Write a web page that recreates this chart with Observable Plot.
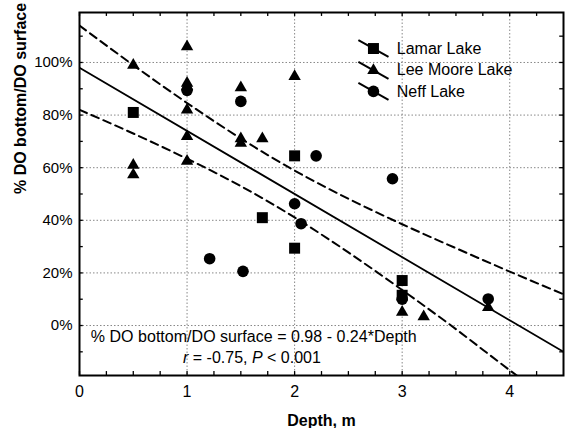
<!DOCTYPE html>
<html><head><meta charset="utf-8">
<script src="https://cdn.jsdelivr.net/npm/d3@7"></script>
<script src="https://cdn.jsdelivr.net/npm/@observablehq/plot@0.6"></script>
<style>body{margin:0;background:#fff} #chart svg{display:block}</style>
</head><body><div id="chart"></div>
<script>
// ---- data ----
const lamarDepth = [0.5, 1.7, 2.0, 2.0, 3.0, 3.0];
const lamarRatio = [0.81, 0.41, 0.645, 0.294, 0.171, 0.115];

const leeDepth = [0.5, 0.5, 0.5, 1.0, 1.0, 1.0, 1.0, 1.0, 1.0, 1.5, 1.5, 1.5, 1.7, 2.0, 3.0, 3.2, 3.8];
const leeRatio = [0.99, 0.61, 0.573, 1.06, 0.921, 0.909, 0.82, 0.719, 0.625, 0.904, 0.71, 0.693, 0.71, 0.947, 0.051, 0.034, 0.069];

const neffDepth = [1.0, 1.5, 2.2, 2.0, 2.06, 1.21, 1.52, 2.91, 3.0, 3.8];
const neffRatio = [0.894, 0.852, 0.645, 0.463, 0.387, 0.254, 0.206, 0.558, 0.10, 0.101];

const fitDepth = [0, 4.5];
const fitRatio = [0.98, -0.10];

const bandDepth = [0, 0.5, 1.0, 1.5, 2.0, 2.5, 3.0, 3.5, 4.0, 4.5];
const bandUpper = [1.140, 0.990, 0.846, 0.711, 0.589, 0.482, 0.385, 0.294, 0.205, 0.119];
const bandLower = [0.820, 0.730, 0.634, 0.530, 0.411, 0.278, 0.135, -0.014, -0.170, -0.320];

const lakeNames = ["Lamar Lake", "Lee Moore Lake", "Neff Lake"];
const lakeSymbols = ["square", "triangle", "circle"];

const xMajorTicks = [0, 1, 2, 3, 4];
const xMinorTicks = [0.25, 0.5, 0.75, 1.25, 1.5, 1.75, 2.25, 2.5, 2.75, 3.25, 3.5, 3.75, 4.25];
const yMajorTicks = [0, 0.2, 0.4, 0.6, 0.8, 1.0];
const yMinorTicks = [-0.1, 0.1, 0.3, 0.5, 0.7, 0.9, 1.1];

const xTitle = "Depth, m";
const yTitle = "% DO bottom/DO surface";
const equationText = "% DO bottom/DO surface = 0.98 - 0.24*Depth";

// ---- build ----
const toPts = (xs, ys) => xs.map((x, i) => ({x, y: ys[i]}));
const lamar = toPts(lamarDepth, lamarRatio);
const lee = toPts(leeDepth, leeRatio);
const neff = toPts(neffDepth, neffRatio);
const fit = toPts(fitDepth, fitRatio);
const band = bandDepth.map((x, i) => ({x, upper: bandUpper[i], lower: bandLower[i]}));

const X0 = 0, X1 = 4.5, Y0 = -0.19, Y1 = 1.19;
const tkX = 0.035, tkY = 0.015; // inner tick lengths in data units
const font = "'Liberation Sans', Arial, Helvetica, sans-serif";

// legend layout (data space)
const legX = 2.733, legDX = 0.14, legDY = 0.032, legTextX = 2.95;
const legRows = [1.053, 0.97, 0.89];
const legend = lakeNames.map((name, i) => ({name, symbol: lakeSymbols[i], y: legRows[i]}));

const allTicksX = [...xMajorTicks, ...xMinorTicks];
const allTicksY = [...yMajorTicks, ...yMinorTicks];

const plot = Plot.plot({
  width: 565, height: 428,
  marginLeft: 79, marginRight: 2, marginTop: 12, marginBottom: 53,
  x: {domain: [X0, X1]},
  y: {domain: [Y0, Y1]},
  style: {fontFamily: font, fontSize: "15px", background: "white", color: "black", overflow: "visible"},
  marks: [
    Plot.ruleX([1, 2, 3, 4], {stroke: "#888", strokeDasharray: "1.5,2", strokeWidth: 1}),
    Plot.ruleY(yMajorTicks, {stroke: "#888", strokeDasharray: "1.5,2", strokeWidth: 1}),
    // inner ticks
    Plot.ruleX(allTicksX, {y1: Y0, y2: Y0 + tkY, stroke: "black", strokeWidth: 1.3}),
    Plot.ruleX(allTicksX, {y1: Y1, y2: Y1 - tkY, stroke: "black", strokeWidth: 1.3}),
    Plot.ruleY(allTicksY, {x1: X0, x2: X0 + tkX, stroke: "black", strokeWidth: 1.3}),
    Plot.ruleY(allTicksY, {x1: X1, x2: X1 - tkX, stroke: "black", strokeWidth: 1.3}),
    Plot.axisX(xMajorTicks, {tickSize: 0, tickPadding: 10, fontSize: 16, label: null}),
    Plot.axisY(yMajorTicks, {tickSize: 0, tickPadding: 7, fontSize: 15, label: null,
      tickFormat: d => Math.round(d * 100) + "%"}),
    // confidence band and fit
    Plot.line(band, {x: "x", y: "upper", curve: "natural", stroke: "black", strokeWidth: 2, strokeDasharray: "8,5", clip: true}),
    Plot.line(band, {x: "x", y: "lower", curve: "natural", stroke: "black", strokeWidth: 2, strokeDasharray: "8,5", clip: true}),
    Plot.line(fit, {x: "x", y: "y", stroke: "black", strokeWidth: 1.8, clip: true}),
    // points
    Plot.dot(lamar, {x: "x", y: "y", symbol: "square", r: 6.2, fill: "black", stroke: "none"}),
    Plot.dot(lee, {x: "x", y: "y", symbol: "triangle", r: 4.6, fill: "black", stroke: "none"}),
    Plot.dot(neff, {x: "x", y: "y", symbol: "circle", r: 5.8, fill: "black", stroke: "none"}),
    // legend
    Plot.link(legend, {x1: () => legX - legDX, x2: () => legX + legDX, y1: d => d.y + legDY, y2: d => d.y - legDY, stroke: "black", strokeWidth: 2}),
    Plot.dot(legend.filter(d => d.symbol === "square"), {x: () => legX, y: "y", symbol: "square", r: 6.2, fill: "black", stroke: "none"}),
    Plot.dot(legend.filter(d => d.symbol === "triangle"), {x: () => legX, y: "y", symbol: "triangle", r: 4.6, fill: "black", stroke: "none"}),
    Plot.dot(legend.filter(d => d.symbol === "circle"), {x: () => legX, y: "y", symbol: "circle", r: 5.8, fill: "black", stroke: "none"}),
    Plot.text(legend, {x: () => legTextX, y: "y", text: "name", textAnchor: "start", fontSize: 16, fill: "black"}),
    // axis titles
    Plot.text([yTitle], {frameAnchor: "left", dx: -59, rotate: -90, text: d => d, fontWeight: "bold", fontSize: 16}),
    Plot.text([xTitle], {frameAnchor: "bottom", dy: 50, text: d => d, fontWeight: "bold", fontSize: 16}),
    Plot.frame({stroke: "black", strokeWidth: 2})
  ]
});

// annotation with italic r and P
const sx = plot.scale("x"), sy = plot.scale("y");
const svg = d3.select(plot);
const g = svg.append("g").attr("font-family", font).attr("font-size", 16).attr("fill", "black").attr("text-anchor", "start");
g.append("text").attr("x", sx.apply(0.11)).attr("y", sy.apply(-0.065))
  .attr("textLength", sx.apply(3.14) - sx.apply(0.11)).attr("lengthAdjust", "spacing").text(equationText);
const t2 = g.append("text").attr("x", sx.apply(0.967)).attr("y", sy.apply(-0.145));
t2.append("tspan").attr("font-style", "italic").text("r");
t2.append("tspan").text(" = -0.75, ");
t2.append("tspan").attr("font-style", "italic").text("P");
t2.append("tspan").text(" < 0.001");

document.getElementById("chart").appendChild(plot);
</script>
</body></html>
